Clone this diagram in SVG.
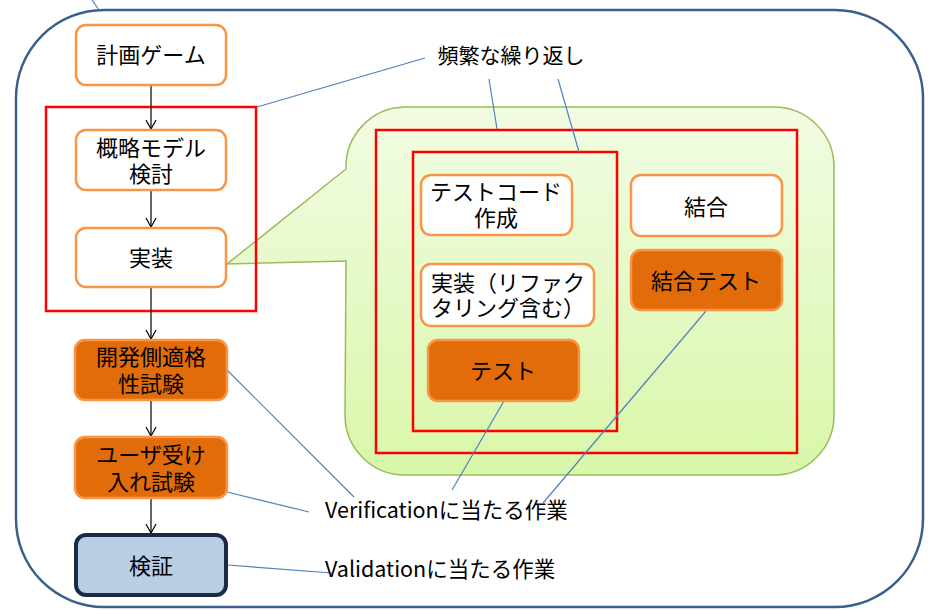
<svg xmlns="http://www.w3.org/2000/svg" width="941" height="610" viewBox="0 0 941 610">
<defs>
<linearGradient id="gGreen" x1="0" y1="0" x2="0" y2="1">
<stop offset="0" stop-color="#f2fce4"/>
<stop offset="1" stop-color="#d8f7a8"/>
</linearGradient>
<marker id="arr" markerWidth="12" markerHeight="12" refX="10" refY="6" orient="auto" markerUnits="userSpaceOnUse">
<path d="M1,1 L10,6 L1,11" fill="none" stroke="#000" stroke-width="1.2"/>
</marker>
</defs>
<style>
text{font-family:"Noto Sans CJK JP","Noto Sans",sans-serif;fill:#000;text-anchor:middle;font-size:22px}
.w{fill:#fff;stroke:#f79646;stroke-width:2.5}
.o{fill:#e36c0a;stroke:#f79646;stroke-width:2.5}
.red{fill:none;stroke:#ff0000;stroke-width:2.5}
.lead{fill:none;stroke:#4f81bd;stroke-width:1.2}
.flow{fill:none;stroke:#000;stroke-width:1.2;marker-end:url(#arr)}
.lbl{text-anchor:start;font-size:21.5px}
</style>
<rect width="941" height="610" fill="#fff"/>
<rect id="outer" x="16" y="10" width="907" height="597" rx="88" ry="88" fill="#fff" stroke="#3a5f8f" stroke-width="2.5"/>
<g id="callout">
<path d="M405,107 L774,107 A60,60 0 0 1 834,167 L834,415 A60,60 0 0 1 774,475 L405,475 A60,60 0 0 1 345,415 L346,261 L227,264 L346,169 A60,60 0 0 1 405,107 Z" fill="url(#gGreen)" stroke="#9bbb59" stroke-width="1.5"/>
</g>
<g id="red1"><rect class="red" x="46" y="107" width="210" height="204"/></g>
<g id="red2"><rect class="red" x="376" y="130" width="421" height="323"/></g>
<g id="red3"><rect class="red" x="413" y="152" width="204" height="279"/></g>
<g id="connectors">
<line class="flow" x1="151" y1="86" x2="151" y2="129"/>
<line class="flow" x1="151" y1="190" x2="151" y2="227"/>
<line class="flow" x1="151" y1="288" x2="151" y2="339"/>
<line class="flow" x1="151" y1="401" x2="151" y2="436"/>
<line class="flow" x1="151" y1="499" x2="151" y2="533"/>
<line class="lead" x1="92" y1="0" x2="99" y2="10"/>
<line class="lead" x1="425" y1="58" x2="257" y2="107"/>
<line class="lead" x1="489" y1="79" x2="497" y2="129"/>
<line class="lead" x1="558" y1="79" x2="579" y2="152"/>
<line class="lead" x1="227" y1="370" x2="354" y2="497"/>
<line class="lead" x1="219" y1="490" x2="309" y2="512"/>
<line class="lead" x1="504" y1="401" x2="452" y2="490"/>
<line class="lead" x1="706" y1="311" x2="543" y2="503"/>
<line class="lead" x1="227" y1="565" x2="332" y2="573"/>
</g>
<g id="n-keikaku"><rect class="w" x="76" y="25" width="150" height="60" rx="10"/><text x="151" y="63">計画ゲーム</text></g>
<g id="n-gairyaku"><rect class="w" x="76" y="130" width="150" height="60" rx="10"/><text x="151" y="156">概略モデル<tspan x="151" dy="26">検討</tspan></text></g>
<g id="n-jisso"><rect class="w" x="76" y="228" width="150" height="59" rx="10"/><text x="151" y="266">実装</text></g>
<g id="n-kaihatsu"><rect class="o" x="75" y="340" width="152" height="60" rx="10"/><text x="151" y="365">開発側適格<tspan x="151" dy="27">性試験</tspan></text></g>
<g id="n-user"><rect class="o" x="75" y="437" width="152" height="61" rx="10"/><text x="151" y="463">ユーザ受け<tspan x="151" dy="27">入れ試験</tspan></text></g>
<g id="n-kensho"><rect x="76" y="535" width="150" height="60" rx="10" fill="#b9cde5" stroke="#1a2a44" stroke-width="4"/><text x="151" y="574">検証</text></g>
<g id="n-testcode"><rect class="w" x="421" y="175" width="151" height="60" rx="10"/><text x="496" y="200">テストコード<tspan x="496" dy="26">作成</tspan></text></g>
<g id="n-refactor"><rect class="w" x="421" y="264" width="173" height="62" rx="10"/><text x="508" y="291">実装（リファク<tspan x="508" dy="25">タリング含む）</tspan></text></g>
<g id="n-test"><rect class="o" x="428" y="340" width="151" height="61" rx="10"/><text x="503" y="379">テスト</text></g>
<g id="n-ketsugo"><rect class="w" x="631" y="175" width="151" height="61" rx="10"/><text x="706" y="215">結合</text></g>
<g id="n-ketsugotest"><rect class="o" x="631" y="250" width="151" height="60" rx="10"/><text x="706" y="289">結合テスト</text></g>
<g id="labels">
<text x="511" y="63" style="font-size:21px">頻繁な繰り返し</text>
<text class="lbl" x="325" y="518">Verificationに当たる作業</text>
<text class="lbl" x="325" y="577">Validationに当たる作業</text>
</g>
</svg>
